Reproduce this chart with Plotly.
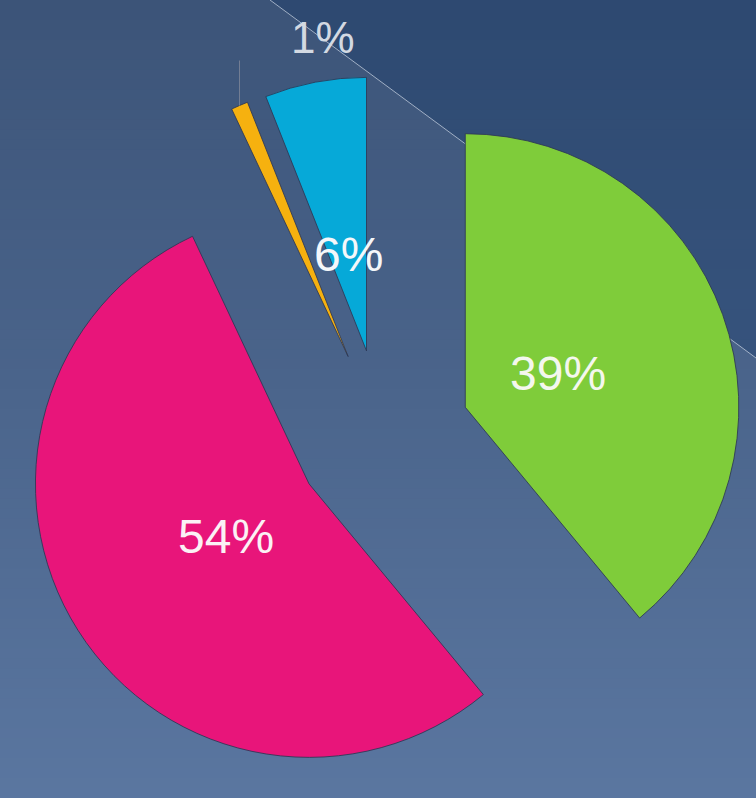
import math
import plotly.graph_objects as go

# Share of each segment (percent), in drawing order starting at 12 o'clock
segments = ["Segment A", "Segment B", "Segment C", "Segment D"]
shares = [39, 54, 1, 6]
colors = ["#7fcc3a", "#e8157a", "#f6b10f", "#06a9d8"]
label_colors = ["#f4f7ee", "#fbf1f5", "#d3d9e2", "#f4f7fa"]

W, H = 756, 798
PULL = 0.32
DOM_X = [0.013, 1.0]
DOM_Y = [0.0, 0.905]
FONT = "Liberation Sans, Arial, sans-serif"

fig = go.Figure()

fig.add_trace(go.Pie(
    labels=segments,
    values=shares,
    sort=False,
    direction="clockwise",
    rotation=0,
    pull=PULL,
    marker=dict(colors=colors, line=dict(color="rgba(45,55,85,0.85)", width=1)),
    textinfo="none",
    showlegend=False,
    hoverinfo="label+percent",
    domain=dict(x=DOM_X, y=DOM_Y),
))

# Pie geometry in pixels (same rules plotly uses: radius shrinks to leave room for the pull)
box_w = W * (DOM_X[1] - DOM_X[0])
box_h = H * (DOM_Y[1] - DOM_Y[0])
radius = min(box_w, box_h) / (2 * (1 + PULL))
cx = W * (DOM_X[0] + DOM_X[1]) / 2
cy = H * (1 - (DOM_Y[0] + DOM_Y[1]) / 2)


def to_paper(px, py):
    return px / W, 1 - py / H


total = sum(shares)
annotations = []
shapes = []
start = 0.0
for name, share, lc in zip(segments, shares, label_colors):
    frac = share / total
    mid = (start + frac / 2) * 2 * math.pi
    start += frac
    ux, uy = math.sin(mid), -math.cos(mid)
    apex_x, apex_y = cx + PULL * radius * ux, cy + PULL * radius * uy
    pct = f"{round(100 * frac)}%"
    if frac >= 0.03:
        lx, ly = apex_x + 0.36 * radius * ux, apex_y + 0.36 * radius * uy
        x, y = to_paper(lx, ly)
        annotations.append(dict(
            x=x, y=y, xref="paper", yref="paper", text=pct, showarrow=False,
            xanchor="center", yanchor="middle",
            font=dict(family=FONT, size=48, color=lc),
        ))
    else:
        # thin slice: leader line up from the outer arc, label to its upper right
        tx, ty = apex_x + radius * ux, apex_y + radius * uy
        x0, y0 = to_paper(tx, ty)
        x1, y1 = to_paper(tx, ty - 45)
        shapes.append(dict(
            type="line", xref="paper", yref="paper", x0=x0, y0=y0, x1=x1, y1=y1,
            line=dict(color="rgba(120,130,150,0.9)", width=1),
        ))
        x, y = to_paper(tx + 83, ty - 68)
        annotations.append(dict(
            x=x, y=y, xref="paper", yref="paper", text=pct, showarrow=False,
            xanchor="center", yanchor="middle",
            font=dict(family=FONT, size=44, color=lc),
        ))

# Background: vertical blue gradient built from thin bands
top_rgb = (60, 84, 120)
bot_rgb = (90, 118, 160)
bands = 80
for i in range(bands):
    t = i / (bands - 1)
    r, g, b = (round(top_rgb[k] + (bot_rgb[k] - top_rgb[k]) * t) for k in range(3))
    shapes.append(dict(
        type="rect", xref="paper", yref="paper", layer="below",
        x0=0, x1=1, y0=1 - (i + 1) / bands - 0.002, y1=1 - i / bands,
        fillcolor=f"rgb({r},{g},{b})", line=dict(width=0),
    ))

# Darker wedge across the upper-right corner with a thin light edge
x_top, y_right = 270 / W, 1 - 358 / H
shapes.append(dict(
    type="path", xref="paper", yref="paper", layer="below",
    path=f"M {x_top},1 L 1,1 L 1,{y_right} Z",
    fillcolor="rgba(20,55,100,0.35)", line=dict(width=0),
))
shapes.append(dict(
    type="line", xref="paper", yref="paper", layer="below",
    x0=x_top, y0=1, x1=1, y1=y_right,
    line=dict(color="rgba(205,215,230,0.7)", width=1),
))

fig.update_layout(
    width=W, height=H,
    autosize=False,
    margin=dict(l=0, r=0, t=0, b=0, pad=0, autoexpand=False),
    paper_bgcolor="#3c5478",
    plot_bgcolor="rgba(0,0,0,0)",
    shapes=shapes,
    annotations=annotations,
    xaxis=dict(visible=False),
    yaxis=dict(visible=False),
)

fig.write_html("out.html")
